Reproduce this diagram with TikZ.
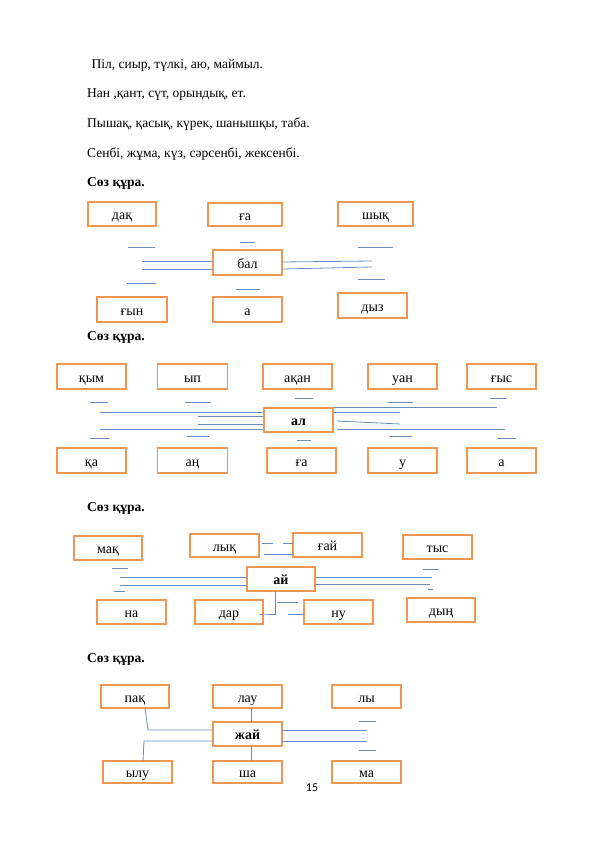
\documentclass[tikz,border=0pt]{standalone}
\usepackage{fontspec}
\setmainfont{Liberation Serif}
\newfontfamily\pgnum{Carlito}
\definecolor{boxor}{RGB}{240,150,80}
\definecolor{lnblue}{RGB}{105,140,190}
\begin{document}
\begin{tikzpicture}[x=1pt,y=-1pt,
  wbox/.style={draw=boxor,line width=1.8pt,fill=white,inner sep=0pt,outer sep=0pt,
    text height=11.5pt,text depth=0pt,
    font=\fontsize{14}{16}\selectfont},
  boldbox/.style={wbox,font=\fontsize{14}{16}\selectfont\bfseries},
  ln/.style={draw=lnblue,line width=0.8pt},
  txt/.style={anchor=base west,inner sep=0pt,font=\fontsize{13.5}{16}\selectfont},
  head/.style={txt,font=\fontsize{13.5}{16}\selectfont\bfseries}]
\useasboundingbox (0,0) rectangle (595,842);
\fill[white] (0,0) rectangle (595,842);
% text lines
\node[txt] (t1) at (88,69) {\ Піл, сиыр, түлкі, аю, маймыл.};
\node[txt] (t2) at (87,98) {Нан ,қант, сүт, орындық, ет.};
\node[txt] (t3) at (87,128) {Пышақ, қасық, күрек, шанышқы, таба.};
\node[txt] (t4) at (87,158) {Сенбі, жұма, күз, сәрсенбі, жексенбі.};
\node[head] (s1) at (87,187) {Сөз құра.};
% ---------- diagram 1
\node[wbox,minimum width=68pt,minimum height=24pt] (dak) at (122,214) {дақ};
\node[wbox,minimum width=74pt,minimum height=23pt] (ga1) at (245,214.5) {ға};
\node[wbox,minimum width=75pt,minimum height=24pt] (shyq) at (375.5,214) {шық};
\node[wbox,minimum width=69pt,minimum height=25pt] (bal) at (247.5,262.5) {бал};
\node[wbox,minimum width=70pt,minimum height=25pt] (gyn) at (132,309.5) {ғын};
\node[wbox,minimum width=69pt,minimum height=25pt] (a1) at (247.5,309.5) {а};
\node[wbox,minimum width=69pt,minimum height=25pt] (dyz) at (372.5,305.5) {дыз};
\draw[ln] (128,247) -- (155,247);
\draw[ln] (240,242) -- (255,242);
\draw[ln] (358,247) -- (393,247);
\draw[ln] (142,261) -- (bal.west |- 0,261);
\draw[ln] (142,269) -- (bal.west |- 0,269);
\draw[ln] (bal.east |- 0,262) -- (372,261);
\draw[ln] (bal.east |- 0,269) -- (372,267);
\draw[ln] (127,283) -- (156,283);
\draw[ln] (236,289) -- (260,289);
\draw[ln] (358,279) -- (385,279);
\node[head] (s2) at (87,340) {Сөз құра.};
% ---------- diagram 2
\node[wbox,minimum width=69pt,minimum height=25pt] (qym) at (91.5,376.5) {қым};
\node[wbox,minimum width=70pt,minimum height=25pt] (yp) at (192.5,376.5) {ып};
\node[wbox,minimum width=69pt,minimum height=25pt] (aqan) at (297.5,376.5) {ақан};
\node[wbox,minimum width=69pt,minimum height=25pt] (uan) at (402.5,376.5) {уан};
\node[wbox,minimum width=69pt,minimum height=25pt] (gys) at (501.5,376.5) {ғыс};
\node[wbox,minimum width=69pt,minimum height=25pt] (qa) at (91.5,460.5) {қа};
\node[wbox,minimum width=70pt,minimum height=25pt] (an) at (192.5,460.5) {аң};
\node[wbox,minimum width=69pt,minimum height=25pt] (ga2) at (301.5,460.5) {ға};
\node[wbox,minimum width=69pt,minimum height=25pt] (u) at (402.5,460.5) {у};
\node[wbox,minimum width=69pt,minimum height=25pt] (a2) at (501.5,460.5) {а};
\draw[ln] (90,402) -- (108,402);
\draw[ln] (185,402) -- (211,402);
\draw[ln] (295,398) -- (313,398);
\draw[ln] (388,402) -- (413,402);
\draw[ln] (490,398) -- (507,398);
\draw[ln] (100,412) -- (264,412);
\draw[ln] (198,416) -- (264,416);
\draw[ln] (198,424) -- (264,424);
\draw[ln] (100,429) -- (264,429);
\draw[ln] (333,407) -- (497,407);
\draw[ln] (333,412) -- (400,412);
\draw[ln] (337,421) -- (400,424);
\draw[ln] (337,429) -- (505,429);
\node[boldbox,minimum width=69pt,minimum height=24pt] (al) at (298.5,420) {ал};
\draw[ln] (90,438) -- (109,438);
\draw[ln] (187,436) -- (209,436);
\draw[ln] (297,440) -- (311,440);
\draw[ln] (389,436) -- (412,436);
\draw[ln] (497,438) -- (516,438);
\node[head] (s3) at (87,511) {Сөз құра.};
% ---------- diagram 3
\node[wbox,minimum width=68pt,minimum height=24pt] (maq) at (108,548) {мақ};
\node[wbox,minimum width=69pt,minimum height=23pt] (lyq) at (224.5,545.5) {лық};
\node[wbox,minimum width=69pt,minimum height=24pt] (gai) at (327.5,545) {ғай};
\node[wbox,minimum width=69pt,minimum height=24pt] (tys) at (437.5,547) {тыс};
\node[boldbox,minimum width=68pt,minimum height=24pt] (ai) at (281,579) {ай};
\node[wbox,minimum width=69pt,minimum height=24pt] (na) at (131.5,612) {на};
\node[wbox,minimum width=68pt,minimum height=24pt] (dar) at (229,612) {дар};
\node[wbox,minimum width=69pt,minimum height=24pt] (nu) at (338.5,612) {ну};
\node[wbox,minimum width=68pt,minimum height=24pt] (dyn) at (441,610) {дың};
\draw[ln] (262,543) -- (273,543);
\draw[ln] (283,543) -- (gai.west |- 0,543);
\draw[ln] (264,554) -- (gai.west |- 0,554);
\draw[ln] (112,568) -- (128,568);
\draw[ln] (120,577) -- (ai.west |- 0,577);
\draw[ln] (120,585) -- (ai.west |- 0,585);
\draw[ln] (114,591) -- (125,591);
\draw[ln] (423,569) -- (439,569);
\draw[ln] (ai.east |- 0,577) -- (432,577);
\draw[ln] (ai.east |- 0,584) -- (430,584);
\draw[ln] (428,589) -- (433,589);
\draw[ln] (ai.south -| 275,0) -- (275,614) -- (dar.east |- 0,614) -- ++(-3,0);
\draw[ln] (277,602) -- (298,602);
\draw[ln] (288,614) -- (nu.west |- 0,614);
\node[head] (s4) at (87,662) {Сөз құра.};
% ---------- diagram 4
\node[wbox,minimum width=68pt,minimum height=23pt] (paq) at (135,696.5) {пақ};
\node[wbox,minimum width=69pt,minimum height=23pt] (lau) at (247.5,696.5) {лау};
\node[wbox,minimum width=69pt,minimum height=23pt] (ly) at (366.5,696.5) {лы};
\node[boldbox,minimum width=69pt,minimum height=24pt] (zhai) at (247.5,734) {жай};
\node[wbox,minimum width=69pt,minimum height=22pt] (ylu) at (137.5,772) {ылу};
\node[wbox,minimum width=69pt,minimum height=22pt] (sha) at (247.5,772) {ша};
\node[wbox,minimum width=69pt,minimum height=22pt] (ma) at (366.5,772) {ма};
\draw[ln] (paq.south -| 145,0) -- (148,730) -- (zhai.west |- 0,730);
\draw[ln] (ylu.north -| 143,0) -- (144,741) -- (zhai.west |- 0,741);
\draw[ln] (lau.south -| 251,0) -- (zhai.north -| 251,0);
\draw[ln] (zhai.south -| 251,0) -- (sha.north -| 251,0);
\draw[ln] (zhai.east |- 0,730) -- (367,730);
\draw[ln] (zhai.east |- 0,741) -- (367,741);
\draw[ln] (359,721) -- (376,721);
\draw[ln] (359,750) -- (376,750);
\node[anchor=base,inner sep=0pt,font=\pgnum\fontsize{12}{14}\selectfont] (pg) at (312,791) {15};
\end{tikzpicture}
\end{document}
